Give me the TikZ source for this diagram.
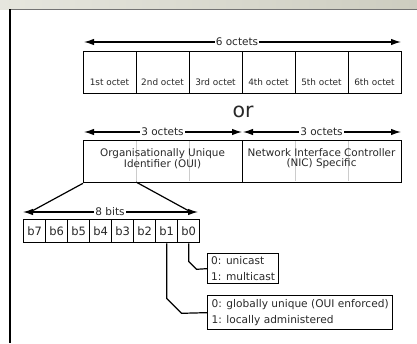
\documentclass[tikz,border=0pt]{standalone}
\usepackage{fontspec}
\setmainfont{DejaVu Sans}
\usetikzlibrary{arrows.meta}
\definecolor{bandL}{RGB}{230,230,222}
\definecolor{bandR}{RGB}{205,205,192}
\definecolor{txt}{RGB}{40,40,40}
\begin{document}
\begin{tikzpicture}[x=1pt,y=-1pt,
  cell/.style={draw, line width=1.3pt, minimum width=53pt, minimum height=42pt, inner sep=0pt, anchor=north west},
  bigcell/.style={draw, line width=1.3pt, minimum width=159pt, minimum height=42pt, inner sep=0pt, anchor=north west},
  bitcell/.style={draw, line width=1.3pt, minimum width=22pt, minimum height=23pt, inner sep=0pt, anchor=north west, font=\fontsize{11.5}{12}\selectfont, text=txt},
  dim/.style={line width=1.2pt, {Latex[length=10pt,width=6.5pt]}-{Latex[length=10pt,width=6.5pt]}},
  dimlabel/.style={fill=white, inner sep=1pt, font=\fontsize{10.5}{12}\selectfont, text=txt},
  small/.style={font=\fontsize{8.9}{10}\selectfont, text=txt, inner sep=0pt},
  mid/.style={font=\fontsize{10.4}{10}\selectfont, text=txt, align=center, inner sep=0pt},
  infobox/.style={draw, line width=1.3pt, anchor=north west, align=left, inner xsep=3pt, inner ysep=0pt, text=txt, font=\fontsize{10.6}{15.5}\selectfont},
  conn/.style={line width=1.2pt},
  divider/.style={draw=black!20, line width=0.8pt}
]
\useasboundingbox (0,0) rectangle (417,343);
% background band and frame
\shade[left color=bandL, right color=bandR] (0,0) rectangle (417,9);
\draw[black!55, line width=1.5pt] (10,9.5) -- (417,9.5);
\draw[black, line width=1.3pt] (10,9) -- (10,343);

% six octets
\node[cell] (o1) at (83,51) {};
\node[cell] (o2) at (136,51) {};
\node[cell] (o3) at (189,51) {};
\node[cell] (o4) at (242,51) {};
\node[cell] (o5) at (295,51) {};
\node[cell] (o6) at (348,51) {};
\node[small] (t1) at (109.5,82) {1st octet};
\node[small] (t2) at (162.5,82) {2nd octet};
\node[small] (t3) at (215.5,82) {3rd octet};
\node[small] (t4) at (268.5,82) {4th octet};
\node[small] (t5) at (321.5,82) {5th octet};
\node[small] (t6) at (374.5,82) {6th octet};
\coordinate (a6l) at (84,42);
\coordinate (a6r) at (401,42);
\draw[dim] (a6l) -- (a6r);
\node[dimlabel] (l6) at (237,42) {6 octets};

% or
\node[font=\fontsize{20.5}{22}\selectfont, text=txt, inner sep=0pt] (or) at (243,112) {or};

% OUI / NIC
\node[bigcell] (oui) at (83,140) {};
\node[bigcell] (nic) at (242,140) {};
\draw[divider] (136,141) -- (136,181);
\draw[divider] (189,141) -- (189,181);
\draw[divider] (295,141) -- (295,181);
\draw[divider] (348,141) -- (348,181);
\node[mid] (ouit) at (162.5,158.5) {Organisationally Unique\\Identifier (OUI)};
\node[mid] (nict) at (321.5,158.5) {Network Interface Controller\\(NIC) Specific};
\coordinate (a3l) at (84,132);
\coordinate (a3m) at (242,132);
\coordinate (a3n) at (243,132);
\coordinate (a3r) at (401,132);
\draw[dim] (a3l) -- (a3m);
\draw[dim] (a3n) -- (a3r);
\node[dimlabel] (l3a) at (162.5,132) {3 octets};
\node[dimlabel] (l3b) at (321.5,132) {3 octets};

% bits
\node[bitcell] (b7) at (23,219) {b7};
\node[bitcell] (b6) at (45,219) {b6};
\node[bitcell] (b5) at (67,219) {b5};
\node[bitcell] (b4) at (89,219) {b4};
\node[bitcell] (b3) at (111,219) {b3};
\node[bitcell] (b2) at (133,219) {b2};
\node[bitcell] (b1) at (155,219) {b1};
\node[bitcell] (b0) at (177,219) {b0};
\coordinate (a8l) at (23,212);
\coordinate (a8r) at (198,212);
\draw[dim] (a8l) -- (a8r);
\node[dimlabel] (l8) at (110,212) {8 bits};
\coordinate (dl) at (32,211);
\coordinate (dr) at (189,211);
\coordinate (ouisplit) at (136,182);
\draw[conn] (oui.south west) -- (dl);
\draw[conn] (ouisplit) -- (dr);

% info boxes
\node[infobox, minimum width=71pt, minimum height=30pt] (cast) at (207,253) {0: unicast\\1: multicast};
\node[infobox, minimum width=185pt, minimum height=34pt] (admin) at (207,295) {0: globally unique (OUI enforced)\\1: locally administered};
\draw[conn] (b0.south) -- ++(0,18) -- ++(8,8) -- (cast.west);
\draw[conn] (b1.south) -- ++(0,55) -- ++(15,15) -- (admin.west);
\end{tikzpicture}
\end{document}
